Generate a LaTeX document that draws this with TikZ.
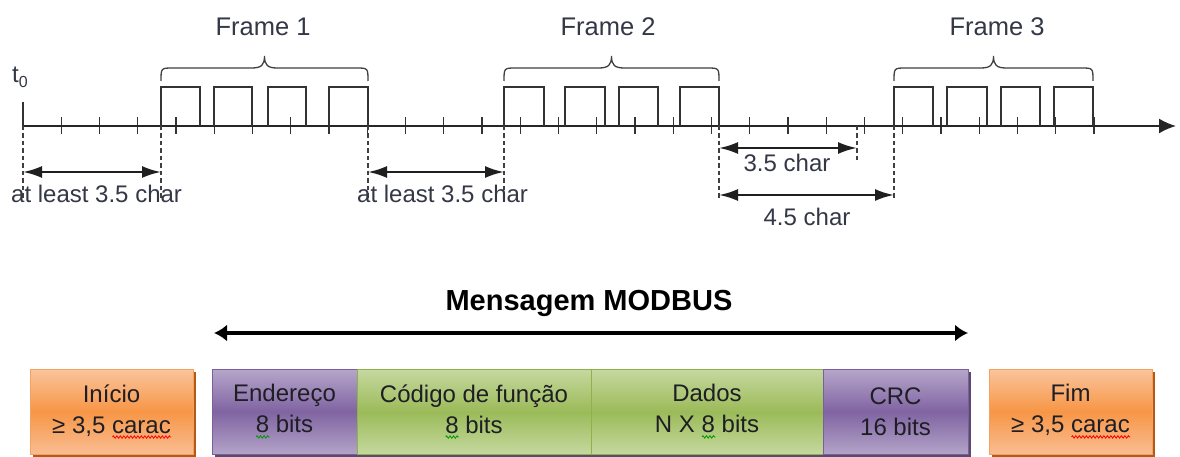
\documentclass[tikz,border=0pt]{standalone}
\usepackage{fontspec}
\setmainfont{Liberation Sans}
\usetikzlibrary{arrows.meta,decorations.pathmorphing}
\definecolor{txt}{RGB}{52,56,70}
\definecolor{boxtxt}{RGB}{30,30,36}
\definecolor{orTop}{HTML}{FAC49C}
\definecolor{orMid}{HTML}{F79646}
\definecolor{orBot}{HTML}{F9BD92}
\definecolor{orLine}{HTML}{F4A261}
\definecolor{orShad}{HTML}{B35A16}
\definecolor{puTop}{HTML}{B6A6CA}
\definecolor{puMid}{HTML}{8064A2}
\definecolor{puBot}{HTML}{B3A3C8}
\definecolor{puLine}{HTML}{7A5F9C}
\definecolor{grTop}{HTML}{C6D8A0}
\definecolor{grMid}{HTML}{9BBB59}
\definecolor{grBot}{HTML}{C5D89E}
\definecolor{grLine}{HTML}{8DB24A}
\definecolor{grpShad}{HTML}{5A4A70}
\newlength\wavylen
\newcommand\wavy[2]{\setbox0\hbox{#2}\setlength\wavylen{\wd0}\rlap{\tikz[baseline=0pt,x=1pt,y=1pt]{\draw[#1,line width=0.8pt,decorate,decoration={zigzag,segment length=3.5pt,amplitude=1.2pt}] (0pt,-4pt) -- (\wavylen,-4pt);}}#2}
\newcommand\pulse[2]{\draw[pulseln] (#1,126) -- (#1,87) -- (#2,87) -- (#2,126);}
\newcommand\fbrace[2]{%
  \draw[braceln] (#1,81) .. controls (#1,68) .. ({#1+12},68) -- ({(#1+#2)/2-13},68)
    .. controls ({(#1+#2)/2-3},68) and ({(#1+#2)/2},65) .. ({(#1+#2)/2},56)
    .. controls ({(#1+#2)/2},65) and ({(#1+#2)/2+3},68) .. ({(#1+#2)/2+13},68)
    -- ({#2-12},68) .. controls (#2,68) .. (#2,81);}
\begin{document}
\begin{tikzpicture}[x=1pt,y=-1pt,
  lbl/.style={text=txt,inner sep=0pt,font=\fontsize{24}{28}\selectfont},
  framelbl/.style={text=txt,inner sep=0pt,font=\fontsize{25.5}{29}\selectfont},
  axisln/.style={line width=1.9pt,black!85,-{Latex[length=17pt,width=15pt]}},
  tickln/.style={line width=1.4pt,black!80},
  pulseln/.style={line width=1.5pt,black!80},
  braceln/.style={line width=1.3pt,black!75},
  dashv/.style={line width=1.6pt,black!75,dash pattern=on 4.5pt off 3pt},
  dimarr/.style={line width=2.4pt,black!88,{Latex[length=19pt,width=12pt]}-{Latex[length=19pt,width=12pt]}},
  bigarr/.style={line width=3.5pt,black,{Latex[length=13pt,width=17pt]}-{Latex[length=13pt,width=17pt]}},
  fbox/.style={inner sep=0pt,minimum height=85pt,align=center,text=boxtxt,
     font=\fontsize{24}{31}\selectfont,line width=1pt},
  obox/.style={fbox,draw=orLine,top color=orTop,bottom color=orBot,middle color=orMid},
  pbox/.style={fbox,draw=puLine,top color=puTop,bottom color=puBot,middle color=puMid},
  gbox/.style={fbox,draw=grLine,top color=grTop,bottom color=grBot,middle color=grMid}
]
\useasboundingbox[fill=white] (0,0) rectangle (1180,457);

% time axis
\coordinate (t0) at (23,126);
\coordinate (t0top) at (23,102);
\coordinate (tend) at (1176,126);
\draw[tickln] (t0top) -- (t0);
\foreach \k in {1,...,28} \draw[tickln] ({23+38.25*\k},117.5) -- ({23+38.25*\k},134.5);
\draw[axisln] (t0) -- (tend);
\node[inner sep=0pt,text=txt,font=\fontsize{24}{27}\selectfont] (t0lbl) at (20,77) {t\raisebox{-5pt}{\fontsize{16}{16}\selectfont 0}};

% frames
\pulse{161}{200}\pulse{214}{252}\pulse{268}{306}\pulse{329}{368}
\pulse{504}{544}\pulse{565}{605}\pulse{619}{658}\pulse{680}{719}
\pulse{894}{933}\pulse{947}{987}\pulse{1001}{1040}\pulse{1054}{1093}
\fbrace{161}{368}
\fbrace{504}{719}
\fbrace{894}{1093}
\node[framelbl] (fr1) at (263,27) {Frame 1};
\node[framelbl] (fr2) at (608,27) {Frame 2};
\node[framelbl] (fr3) at (997,27) {Frame 3};

% dashed verticals
\draw[dashv] (23,126) -- (23,198);
\draw[dashv] (161,126) -- (161,198);
\draw[dashv] (368,126) -- (368,198);
\draw[dashv] (504,126) -- (504,198);
\draw[dashv] (719,126) -- (719,201);
\draw[dashv] (857,126) -- (857,161);
\draw[dashv] (894,126) -- (894,201);

% interval arrows
\coordinate (a1l) at (23,172);  \coordinate (a1r) at (161,172);
\coordinate (a2l) at (368,172); \coordinate (a2r) at (504,172);
\coordinate (a3l) at (719,148); \coordinate (a3r) at (857,148);
\coordinate (a4l) at (719,195); \coordinate (a4r) at (894,195);
\draw[dimarr] (a1l) -- (a1r);
\draw[dimarr] (a2l) -- (a2r);
\draw[dimarr] (a3l) -- (a3r);
\draw[dimarr] (a4l) -- (a4r);
\node[lbl,anchor=west] (l1) at (11,194) {at least 3.5 char};
\node[lbl,anchor=west] (l2) at (357,194) {at least 3.5 char};
\node[lbl] (l3) at (787,163) {3.5 char};
\node[lbl] (l4) at (807,217) {4.5 char};

% MODBUS message
\node[inner sep=0pt,font=\fontsize{29}{32}\selectfont\bfseries] (msg) at (589,303) {Mensagem MODBUS};
\coordinate (ml) at (214,333); \coordinate (mr) at (968,333);
\draw[bigarr] (ml) -- (mr);

% shadows
\fill[orShad] (33,372) rectangle (196,457);
\fill[orShad] (992,372) rectangle (1155,457);
\fill[grpShad] (215,372) rectangle (971,457);

% boxes
\node[obox,minimum width=163pt] (ini) at (111.5,411.5) {Início\\≥ 3,5 \wavy{red}{carac}};
\node[pbox,minimum width=145pt] (end) at (284.5,411.5) {Endereço\\\wavy{green!60!black}{8} bits};
\node[gbox,minimum width=234pt] (cod) at (474,411.5) {Código de função\\\wavy{green!60!black}{8} bits};
\node[gbox,minimum width=232pt] (dad) at (707,411.5) {Dados\\N X \wavy{green!60!black}{8} bits};
\node[pbox,minimum width=145pt] (crc) at (895.5,411.5) {CRC\\16 bits};
\node[obox,minimum width=163pt] (fim) at (1070.5,411.5) {Fim\\≥ 3,5 \wavy{red}{carac}};
\end{tikzpicture}
\end{document}
